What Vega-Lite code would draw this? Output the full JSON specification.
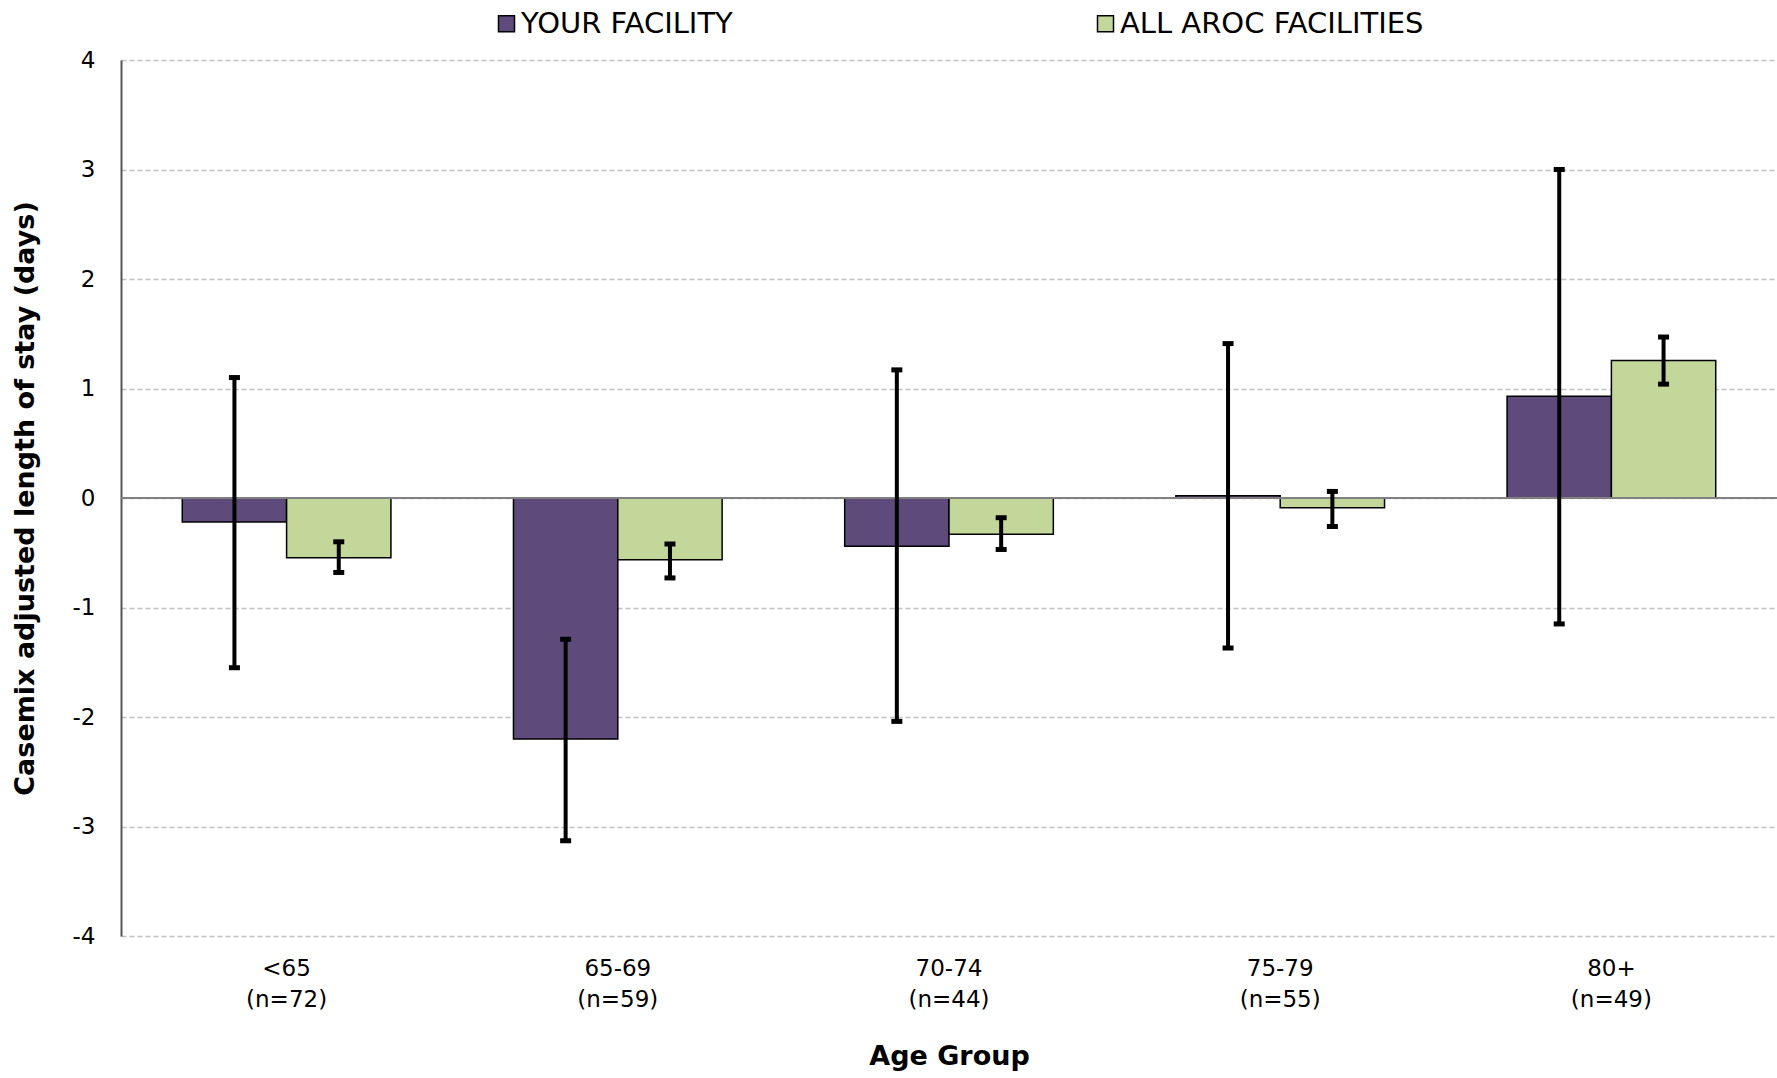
{
  "$schema": "https://vega.github.io/schema/vega-lite/v6.json",
  "autosize": {"type": "none"},
  "width": 1656,
  "height": 876,
  "padding": {"left": 121, "top": 60, "right": 0, "bottom": 142},
  "background": "white",
  "config": {
    "font": "DejaVu Sans",
    "view": {"stroke": null},
    "axis": {"labelFont": "DejaVu Sans", "titleFont": "DejaVu Sans", "labelColor": "#000", "titleColor": "#000"},
    "legend": {"labelFont": "DejaVu Sans"}
  },
  "data": {
    "values": [
      {"group": "<65|(n=72)", "series": "YOUR FACILITY", "value": -0.22, "lo": -1.55, "hi": 1.10},
      {"group": "<65|(n=72)", "series": "ALL AROC FACILITIES", "value": -0.545, "lo": -0.68, "hi": -0.40},
      {"group": "65-69|(n=59)", "series": "YOUR FACILITY", "value": -2.20, "lo": -3.13, "hi": -1.29},
      {"group": "65-69|(n=59)", "series": "ALL AROC FACILITIES", "value": -0.565, "lo": -0.73, "hi": -0.42},
      {"group": "70-74|(n=44)", "series": "YOUR FACILITY", "value": -0.44, "lo": -2.04, "hi": 1.17},
      {"group": "70-74|(n=44)", "series": "ALL AROC FACILITIES", "value": -0.33, "lo": -0.47, "hi": -0.18},
      {"group": "75-79|(n=55)", "series": "YOUR FACILITY", "value": 0.02, "lo": -1.37, "hi": 1.41},
      {"group": "75-79|(n=55)", "series": "ALL AROC FACILITIES", "value": -0.09, "lo": -0.26, "hi": 0.06},
      {"group": "80+|(n=49)", "series": "YOUR FACILITY", "value": 0.93, "lo": -1.15, "hi": 3.00},
      {"group": "80+|(n=49)", "series": "ALL AROC FACILITIES", "value": 1.255, "lo": 1.04, "hi": 1.47}
    ]
  },
  "encoding": {
    "x": {
      "field": "group", "type": "nominal", "sort": null,
      "scale": {"paddingInner": 0.37, "paddingOuter": 0.185},
      "axis": {
        "title": "Age Group", "labelAngle": 0, "domain": false, "ticks": false, "grid": false,
        "labelExpr": "split(datum.label, '|')",
        "labelFontSize": 23, "labelPadding": 21, "labelLineHeight": 31, "labelBaseline": "top",
        "titleFontSize": 27, "titleFontWeight": "bold", "titlePadding": 32
      }
    },
    "xOffset": {"field": "series", "type": "nominal", "sort": ["YOUR FACILITY", "ALL AROC FACILITIES"], "scale": {"paddingInner": 0, "paddingOuter": 0}}
  },
  "layer": [
    {
      "mark": {"type": "bar", "stroke": "#000", "strokeWidth": 1.5},
      "encoding": {
        "y": {
          "field": "value", "type": "quantitative",
          "scale": {"domain": [-4, 4], "nice": false, "zero": false},
          "axis": {
            "title": "Casemix adjusted length of stay (days)",
            "values": [-4, -3, -2, -1, 0, 1, 2, 3, 4],
            "labelExpr": "'' + datum.value",
            "ticks": false, "domainColor": "#555", "domainWidth": 2,
            "gridColor": "#c0c0c0", "gridDash": [5, 3], "gridWidth": 1.5,
            "labelFontSize": 23, "labelPadding": 26,
            "titleFontSize": 27, "titleFontWeight": "bold", "titlePadding": 33
          }
        },
        "y2": {"datum": 0},
        "color": {
          "field": "series", "type": "nominal",
          "sort": ["YOUR FACILITY", "ALL AROC FACILITIES"],
          "scale": {"domain": ["YOUR FACILITY", "ALL AROC FACILITIES"], "range": ["#5f4b7b", "#c4d79b"]},
          "legend": {
            "title": null, "orient": "none", "legendX": 371, "legendY": -51,
            "direction": "horizontal", "symbolType": "square", "symbolSize": 256,
            "symbolStrokeColor": "#000", "symbolStrokeWidth": 1.5,
            "labelFontSize": 29, "labelColor": "#000", "labelOffset": 0, "labelLimit": 600,
            "columnPadding": 358
          }
        }
      }
    },
    {
      "mark": {"type": "rule", "color": "#808080", "strokeWidth": 2},
      "encoding": {"y": {"datum": 0}, "x": null, "xOffset": null}
    },
    {
      "mark": {"type": "rule", "color": "#000", "strokeWidth": 4},
      "encoding": {"y": {"field": "lo", "type": "quantitative"}, "y2": {"field": "hi"}}
    },
    {
      "mark": {"type": "tick", "color": "#000", "size": 11, "thickness": 5, "opacity": 1},
      "encoding": {"y": {"field": "lo", "type": "quantitative"}}
    },
    {
      "mark": {"type": "tick", "color": "#000", "size": 11, "thickness": 5, "opacity": 1},
      "encoding": {"y": {"field": "hi", "type": "quantitative"}}
    }
  ]
}
